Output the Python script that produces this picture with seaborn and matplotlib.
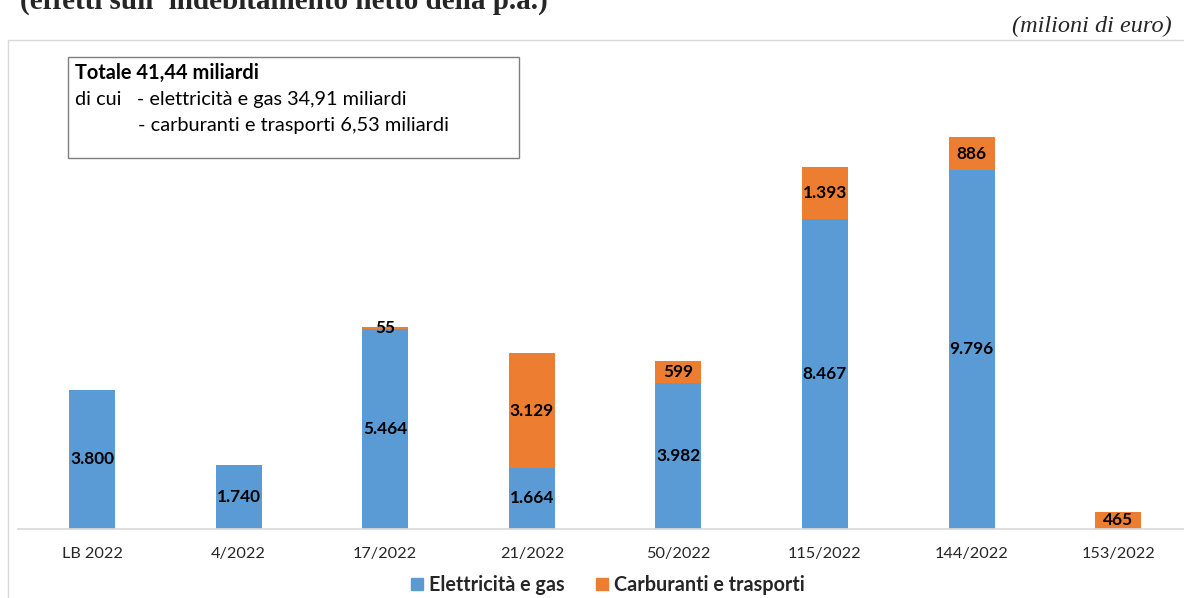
import matplotlib
matplotlib.use("Agg")
import matplotlib.pyplot as plt
import matplotlib.patches as mpatches
import pandas as pd
import seaborn as sns

# dati (milioni di euro)
categorie = ['LB 2022', '4/2022', '17/2022', '21/2022', '50/2022', '115/2022', '144/2022', '153/2022']
elettricita_gas = [3800, 1740, 5464, 1664, 3982, 8467, 9796, 0]
carburanti_trasporti = [0, 0, 55, 3129, 599, 1393, 886, 465]

BLU = '#5B9BD5'
ARANCIO = '#ED7D31'

sns.set_theme(style='white')
plt.rcParams['font.family'] = ['Lato', 'DejaVu Sans']

df = pd.DataFrame({'decreto': categorie, 'elettricita': elettricita_gas, 'carburanti': carburanti_trasporti})
df['totale'] = df['elettricita'] + df['carburanti']

W, H = 1184, 598
fig = plt.figure(figsize=(W / 100, H / 100), dpi=100)

# cornice grigia del grafico
fig.patches.append(mpatches.Rectangle((8 / W, -0.05), 1.0, 1 - 40 / H + 0.05, transform=fig.transFigure,
                                      fill=False, edgecolor='#D9D9D9', lw=1))

ax = fig.add_axes([18 / W, 69 / H, (W - 18) / W, 440 / H])
# barre impilate: prima il totale (arancio), sopra la parte elettricita (blu)
sns.barplot(data=df, x='decreto', y='totale', color=ARANCIO, width=0.314, saturation=1, linewidth=0, ax=ax)
sns.barplot(data=df, x='decreto', y='elettricita', color=BLU, width=0.314, saturation=1, linewidth=0, ax=ax)

ax.set_xlim(-0.505, 7.449)
ax.set_ylim(0, 12000)
ax.set_xlabel('')
ax.set_ylabel('')
ax.set_yticks([])
for s in ['top', 'left', 'right']:
    ax.spines[s].set_visible(False)
ax.spines['bottom'].set_color('#D9D9D9')
ax.tick_params(axis='x', length=0, pad=13, labelsize=11.7, colors='#262626')

def fmt(v):
    return f"{v:,}".replace(',', '.')

for i, (e, c) in enumerate(zip(elettricita_gas, carburanti_trasporti)):
    if e > 0:
        ax.text(i, e / 2, fmt(e), ha='center', va='center', fontsize=12.4, fontweight='bold', color='black')
    if c > 0:
        ax.text(i, e + c / 2, fmt(c), ha='center', va='center', fontsize=12.4, fontweight='bold', color='black')

# riquadro con i totali
fig.patches.append(mpatches.Rectangle((68 / W, 1 - 158 / H), (519 - 68) / W, 101 / H, transform=fig.transFigure,
                                      fill=False, edgecolor='#7F7F7F', lw=1))
fig.text(75 / W, 1 - 73 / H, 'Totale 41,44 miliardi', fontsize=14.4, fontweight='bold', va='center', color='black')
fig.text(75 / W, 1 - 100 / H, 'di cui   - elettricità e gas 34,91 miliardi', fontsize=14.3, va='center', color='black')
fig.text(138 / W, 1 - 126 / H, '- carburanti e trasporti 6,53 miliardi', fontsize=14.4, va='center', color='black')

# titolo tagliato in alto e unita di misura
fig.text(20 / W, 1 - 9 / H, "(effetti sull' indebitamento netto della p.a.)", fontsize=21, fontweight='bold',
         family='Liberation Serif', va='baseline', ha='left')
fig.text(1172 / W, 1 - 32 / H, '(milioni di euro)', fontsize=17.5, style='italic',
         family='Liberation Serif', va='baseline', ha='right')

# legenda
handles = [mpatches.Patch(color=BLU, label='Elettricità e gas'),
           mpatches.Patch(color=ARANCIO, label='Carburanti e trasporti')]
leg = fig.legend(handles=handles, loc='center', bbox_to_anchor=(608 / W, 1 - 585 / H), ncol=2, frameon=False,
                 handlelength=0.62, handleheight=0.62, handletextpad=0.3, columnspacing=1.6,
                 prop={'size': 14.2, 'weight': 'bold'})

fig.savefig('out.png', dpi=100)
